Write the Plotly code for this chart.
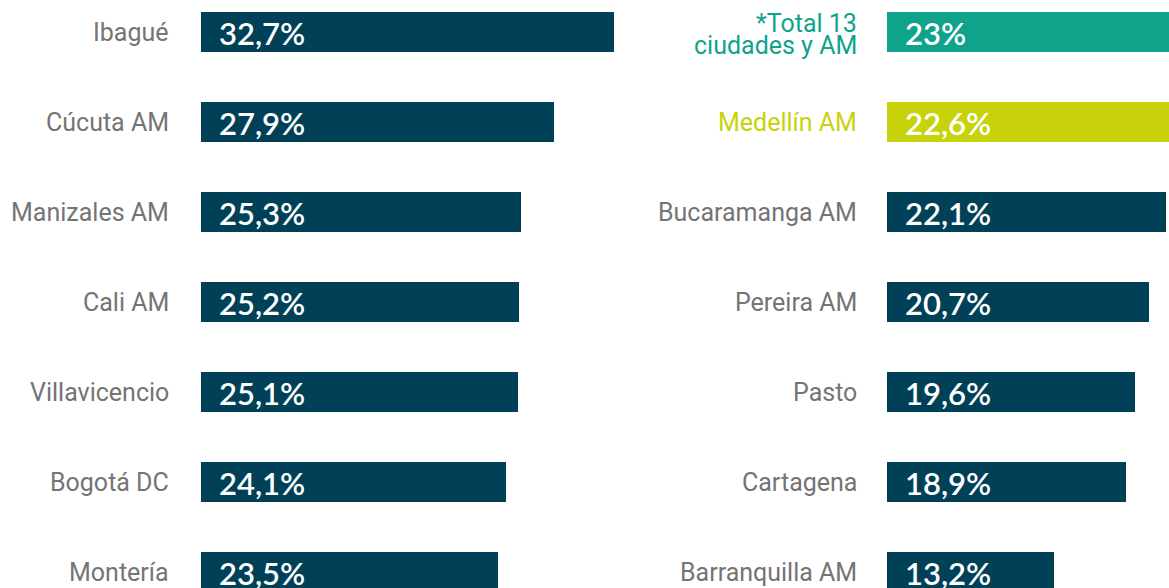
import plotly.graph_objects as go

left_cities = ["Ibagué", "Cúcuta AM", "Manizales AM", "Cali AM", "Villavicencio", "Bogotá DC", "Montería"]
left_values = [32.7, 27.9, 25.3, 25.2, 25.1, 24.1, 23.5]

right_cities = ["*Total 13<br>ciudades y AM", "Medellín AM", "Bucaramanga AM", "Pereira AM", "Pasto", "Cartagena", "Barranquilla AM"]
right_values = [23.0, 22.6, 22.1, 20.7, 19.6, 18.9, 13.2]

DARK = "#004158"
TEAL = "#0fa38c"
LIME = "#c8d20a"
GRAY = "#747474"

right_bar_colors = [TEAL, LIME] + [DARK] * 5
right_label_colors = [TEAL, LIME] + [GRAY] * 5

W, H = 1169, 588
PX_PER_UNIT = 12.635
L0, R0 = 201, 887
L_END = 700

def fmt(v):
    s = f"{v:.1f}".replace(".", ",")
    if s.endswith(",0"):
        s = s[:-2]
    return s + "%"

fig = go.Figure()
n = len(left_cities)
ys = list(range(n))

fig.add_trace(go.Bar(x=left_values, y=ys, orientation="h", marker=dict(color=DARK, line=dict(width=0)),
                     width=40 / 90, xaxis="x", yaxis="y", hoverinfo="skip"))
fig.add_trace(go.Bar(x=right_values, y=ys, orientation="h", marker=dict(color=right_bar_colors, line=dict(width=0)),
                     width=40 / 90, xaxis="x2", yaxis="y2", hoverinfo="skip"))

LABEL_FONT = "Roboto"
LABEL_SIZE = 25
VALUE_FONT = dict(family="Lato", size=31, color="white", weight=600)

annotations = []
for i in range(n):
    annotations.append(dict(x=0, y=i, xref="x", yref="y", text=left_cities[i], showarrow=False,
                            xanchor="right", yanchor="middle", xshift=-30, yshift=0,
                            font=dict(family=LABEL_FONT, size=LABEL_SIZE, color=GRAY)))
    annotations.append(dict(x=0, y=i, xref="x", yref="y", text=fmt(left_values[i]), showarrow=False,
                            xanchor="left", yanchor="middle", xshift=16, yshift=-1,
                            font=VALUE_FONT))
    lines = right_cities[i].split("<br>")
    if len(lines) == 1:
        shifts = [0]
    else:
        shifts = [9, -13]
    for line, sh in zip(lines, shifts):
        annotations.append(dict(x=0, y=i, xref="x2", yref="y2", text=line, showarrow=False,
                                xanchor="right", yanchor="middle", xshift=-28, yshift=sh, align="right",
                                font=dict(family=LABEL_FONT, size=LABEL_SIZE, color=right_label_colors[i])))
    annotations.append(dict(x=0, y=i, xref="x2", yref="y2", text=fmt(right_values[i]), showarrow=False,
                            xanchor="left", yanchor="middle", xshift=16, yshift=-1,
                            font=VALUE_FONT))

y_top = -32 / 90
y_bot = (H - 32) / 90

fig.update_layout(
    width=W, height=H,
    margin=dict(l=0, r=0, t=0, b=0),
    paper_bgcolor="white", plot_bgcolor="white",
    showlegend=False, bargap=0,
    xaxis=dict(domain=[L0 / W, L_END / W], range=[0, (L_END - L0) / PX_PER_UNIT], visible=False, fixedrange=True),
    xaxis2=dict(domain=[R0 / W, 1], range=[0, (W - R0) / PX_PER_UNIT], visible=False, fixedrange=True, anchor="y2"),
    yaxis=dict(range=[y_bot, y_top], visible=False, fixedrange=True, anchor="x"),
    yaxis2=dict(range=[y_bot, y_top], visible=False, fixedrange=True, anchor="x2"),
    annotations=annotations,
)

fig.write_html("out.html", config={"displayModeBar": False},
               post_script="document.body.style.margin='0';document.body.style.padding='0';")
